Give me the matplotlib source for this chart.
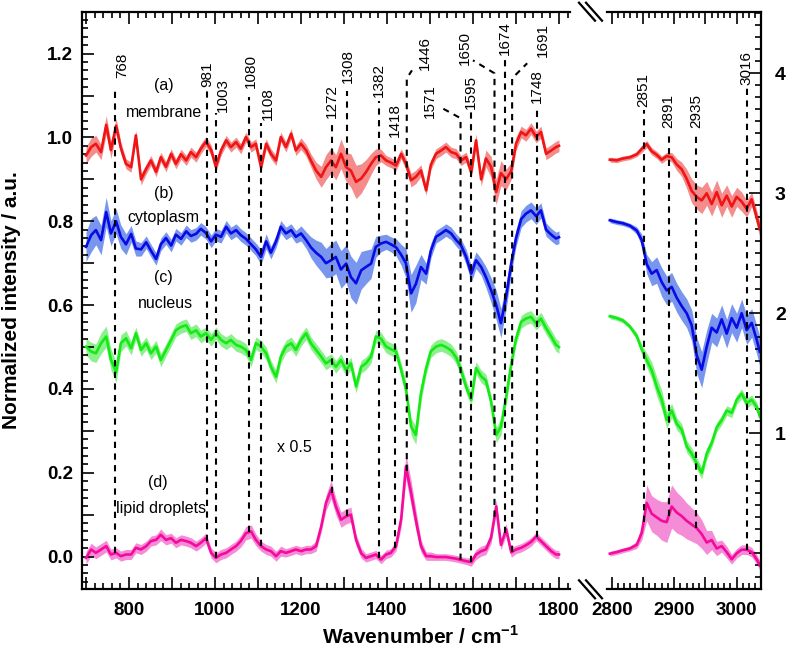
import numpy as np
import matplotlib
matplotlib.use('Agg')
import matplotlib.pyplot as plt
from matplotlib.ticker import MultipleLocator, FuncFormatter
from matplotlib.lines import Line2D

plt.rcParams['font.family'] = ['Liberation Sans', 'DejaVu Sans']
plt.rcParams['mathtext.fontset'] = 'custom'
plt.rcParams['mathtext.rm'] = 'Liberation Sans'
plt.rcParams['mathtext.bf'] = 'Liberation Sans:bold'

# ---- fingerprint region (left panel, left axis) ----
wn_low = [700, 712, 723, 735, 747, 758, 770, 781, 793, 805,
          816, 828, 840, 851, 863, 874, 886, 898, 909, 921,
          933, 944, 956, 967, 979, 991, 1002, 1014, 1026, 1037,
          1049, 1060, 1072, 1084, 1095, 1107, 1119, 1130, 1142, 1153,
          1165, 1177, 1188, 1200, 1212, 1223, 1235, 1247, 1258, 1270,
          1281, 1293, 1305, 1316, 1328, 1340, 1351, 1363, 1374, 1386,
          1398, 1409, 1421, 1433, 1444, 1456, 1467, 1479, 1491, 1502,
          1514, 1526, 1537, 1549, 1561, 1572, 1584, 1596, 1607, 1619,
          1630, 1642, 1654, 1665, 1677, 1689, 1700, 1712, 1723, 1735,
          1747, 1758, 1770, 1782, 1793, 1800]

membrane_low = [0.957, 0.977, 0.985, 0.965, 1.030, 0.970, 1.028, 0.975, 0.937, 0.929,
                1.005, 0.900, 0.925, 0.945, 0.918, 0.953, 0.930, 0.961, 0.937, 0.960,
                0.945, 0.965, 0.953, 0.973, 0.990, 0.970, 0.930, 0.969, 0.993, 0.977,
                0.989, 0.973, 1.001, 0.977, 0.985, 0.929, 0.985, 0.961, 0.945, 1.001,
                0.977, 1.009, 0.969, 0.985, 0.969, 0.945, 0.921, 0.906, 0.929, 0.945,
                0.929, 0.961, 0.929, 0.921, 0.894, 0.902, 0.917, 0.937, 0.953, 0.957,
                0.945, 0.940, 0.933, 0.961, 0.937, 0.898, 0.906, 0.921, 0.874, 0.935,
                0.961, 0.969, 0.977, 0.965, 0.961, 0.945, 0.953, 0.917, 0.993, 0.900,
                0.950, 0.930, 0.870, 0.915, 0.900, 0.920, 0.985, 1.013, 1.005, 1.021,
                1.001, 1.013, 0.961, 0.969, 0.977, 0.980]
membrane_low_sd = [0.020, 0.022, 0.020, 0.018, 0.022, 0.020, 0.018, 0.014, 0.012, 0.012,
                   0.012, 0.014, 0.012, 0.012, 0.012, 0.012, 0.012, 0.012, 0.012, 0.012,
                   0.012, 0.012, 0.012, 0.012, 0.012, 0.012, 0.012, 0.012, 0.012, 0.012,
                   0.012, 0.012, 0.012, 0.012, 0.012, 0.012, 0.012, 0.012, 0.012, 0.012,
                   0.012, 0.012, 0.012, 0.014, 0.014, 0.016, 0.020, 0.025, 0.030, 0.030,
                   0.030, 0.035, 0.035, 0.040, 0.040, 0.035, 0.030, 0.025, 0.020, 0.015,
                   0.012, 0.012, 0.012, 0.012, 0.014, 0.016, 0.016, 0.014, 0.012, 0.012,
                   0.012, 0.012, 0.012, 0.012, 0.012, 0.012, 0.012, 0.014, 0.016, 0.016,
                   0.020, 0.025, 0.030, 0.030, 0.025, 0.020, 0.016, 0.014, 0.014, 0.014,
                   0.014, 0.014, 0.014, 0.014, 0.014, 0.014]

cytoplasm_low = [0.739, 0.767, 0.779, 0.755, 0.822, 0.771, 0.800, 0.763, 0.745, 0.770,
                 0.735, 0.733, 0.750, 0.730, 0.710, 0.745, 0.760, 0.742, 0.768, 0.758,
                 0.776, 0.765, 0.770, 0.782, 0.772, 0.752, 0.768, 0.763, 0.787, 0.771,
                 0.779, 0.767, 0.758, 0.745, 0.733, 0.715, 0.752, 0.725, 0.752, 0.787,
                 0.771, 0.779, 0.763, 0.771, 0.755, 0.738, 0.725, 0.715, 0.700, 0.707,
                 0.715, 0.685, 0.699, 0.667, 0.652, 0.683, 0.691, 0.699, 0.739, 0.747,
                 0.751, 0.745, 0.738, 0.720, 0.700, 0.628, 0.650, 0.691, 0.675, 0.730,
                 0.763, 0.771, 0.779, 0.771, 0.755, 0.743, 0.715, 0.675, 0.707, 0.691,
                 0.667, 0.636, 0.600, 0.557, 0.620, 0.700, 0.760, 0.805, 0.818, 0.826,
                 0.812, 0.826, 0.780, 0.768, 0.759, 0.762]
cytoplasm_low_sd = [0.035, 0.040, 0.035, 0.035, 0.035, 0.030, 0.030, 0.028, 0.025, 0.020,
                    0.018, 0.016, 0.015, 0.015, 0.015, 0.015, 0.015, 0.015, 0.015, 0.015,
                    0.015, 0.015, 0.015, 0.015, 0.015, 0.015, 0.015, 0.015, 0.015, 0.015,
                    0.015, 0.015, 0.015, 0.015, 0.015, 0.018, 0.018, 0.015, 0.015, 0.015,
                    0.015, 0.015, 0.015, 0.018, 0.020, 0.025, 0.030, 0.035, 0.035, 0.040,
                    0.040, 0.045, 0.045, 0.050, 0.050, 0.045, 0.040, 0.035, 0.025, 0.020,
                    0.018, 0.018, 0.020, 0.025, 0.035, 0.045, 0.045, 0.030, 0.025, 0.018,
                    0.015, 0.015, 0.015, 0.015, 0.015, 0.015, 0.018, 0.020, 0.020, 0.020,
                    0.025, 0.030, 0.035, 0.035, 0.030, 0.025, 0.020, 0.020, 0.020, 0.020,
                    0.020, 0.018, 0.016, 0.015, 0.015, 0.015]

nucleus_low = [0.501, 0.489, 0.485, 0.509, 0.525, 0.470, 0.440, 0.509, 0.521, 0.497,
               0.533, 0.493, 0.509, 0.485, 0.501, 0.469, 0.493, 0.517, 0.540, 0.548,
               0.552, 0.533, 0.540, 0.525, 0.533, 0.517, 0.533, 0.517, 0.509, 0.517,
               0.505, 0.501, 0.493, 0.469, 0.509, 0.501, 0.485, 0.453, 0.429, 0.477,
               0.501, 0.509, 0.493, 0.517, 0.533, 0.509, 0.493, 0.477, 0.461, 0.469,
               0.453, 0.469, 0.445, 0.461, 0.406, 0.453, 0.461, 0.477, 0.525, 0.520,
               0.501, 0.495, 0.489, 0.445, 0.400, 0.310, 0.290, 0.390, 0.450, 0.490,
               0.501, 0.505, 0.500, 0.492, 0.475, 0.445, 0.405, 0.374, 0.450, 0.430,
               0.420, 0.370, 0.290, 0.310, 0.380, 0.460, 0.520, 0.560, 0.568, 0.572,
               0.556, 0.568, 0.545, 0.525, 0.505, 0.500]
nucleus_low_sd = [0.020, 0.022, 0.022, 0.025, 0.025, 0.025, 0.025, 0.020, 0.018, 0.016,
                  0.015, 0.015, 0.015, 0.015, 0.015, 0.016, 0.015, 0.015, 0.015, 0.015,
                  0.015, 0.015, 0.015, 0.015, 0.015, 0.015, 0.015, 0.015, 0.015, 0.015,
                  0.015, 0.015, 0.015, 0.016, 0.015, 0.015, 0.015, 0.015, 0.015, 0.015,
                  0.015, 0.015, 0.015, 0.015, 0.015, 0.015, 0.015, 0.015, 0.015, 0.015,
                  0.015, 0.015, 0.015, 0.015, 0.016, 0.015, 0.015, 0.015, 0.015, 0.015,
                  0.015, 0.015, 0.015, 0.016, 0.018, 0.020, 0.022, 0.020, 0.016, 0.015,
                  0.015, 0.015, 0.015, 0.015, 0.015, 0.015, 0.015, 0.015, 0.015, 0.015,
                  0.015, 0.016, 0.018, 0.020, 0.018, 0.016, 0.015, 0.015, 0.015, 0.015,
                  0.015, 0.015, 0.015, 0.015, 0.015, 0.015]

# lipid droplets, shown x 0.5
lipid_low = [-0.003, 0.017, 0.009, 0.017, 0.025, 0.005, 0.009, 0.001, 0.005, 0.005,
             0.021, 0.017, 0.025, 0.037, 0.040, 0.052, 0.040, 0.044, 0.033, 0.040,
             0.037, 0.033, 0.025, 0.033, 0.044, 0.009, -0.003, 0.005, 0.009, 0.017,
             0.025, 0.037, 0.056, 0.060, 0.040, 0.025, 0.017, 0.013, 0.001, 0.013,
             0.009, 0.013, 0.017, 0.013, 0.017, 0.017, 0.025, 0.072, 0.128, 0.160,
             0.120, 0.088, 0.096, 0.100, 0.040, 0.008, -0.003, 0.001, 0.005, -0.007,
             0.005, 0.009, 0.025, 0.090, 0.215, 0.152, 0.088, 0.025, 0.001, 0.001,
             -0.001, -0.001, -0.001, -0.003, -0.005, -0.008, -0.011, -0.013, 0.005, 0.013,
             0.017, 0.045, 0.120, 0.028, 0.065, 0.010, 0.017, 0.021, 0.027, 0.035,
             0.048, 0.037, 0.025, 0.013, 0.005, 0.005]
lipid_low_sd = [0.015, 0.015, 0.014, 0.014, 0.014, 0.013, 0.012, 0.012, 0.012, 0.012,
                0.012, 0.012, 0.012, 0.012, 0.012, 0.014, 0.012, 0.012, 0.012, 0.012,
                0.012, 0.012, 0.012, 0.012, 0.012, 0.012, 0.012, 0.012, 0.012, 0.012,
                0.012, 0.014, 0.016, 0.016, 0.014, 0.012, 0.012, 0.012, 0.012, 0.012,
                0.010, 0.010, 0.010, 0.010, 0.010, 0.010, 0.012, 0.014, 0.018, 0.022,
                0.020, 0.018, 0.018, 0.018, 0.014, 0.012, 0.010, 0.010, 0.010, 0.010,
                0.010, 0.010, 0.012, 0.020, 0.030, 0.030, 0.025, 0.015, 0.010, 0.010,
                0.008, 0.008, 0.008, 0.008, 0.008, 0.008, 0.008, 0.010, 0.012, 0.012,
                0.012, 0.014, 0.016, 0.012, 0.014, 0.012, 0.010, 0.010, 0.010, 0.010,
                0.010, 0.010, 0.010, 0.010, 0.010, 0.010]

# ---- CH stretching region (right panel, right axis) ----
wn_high = [2797, 2808, 2818, 2829, 2840, 2848, 2856, 2864, 2872, 2880,
           2888, 2896, 2904, 2912, 2920, 2928, 2936, 2944, 2952, 2960,
           2968, 2976, 2984, 2992, 3000, 3008, 3016, 3024, 3032, 3037]

membrane_high = [3.28, 3.275, 3.29, 3.30, 3.325, 3.37, 3.41, 3.35, 3.32, 3.28,
                 3.31, 3.30, 3.24, 3.20, 3.12, 3.02, 2.97, 2.94, 3.00, 2.91,
                 3.01, 2.90, 2.98, 2.89, 2.97, 2.93, 2.87, 2.95, 2.80, 2.70]
membrane_high_sd = [0.02, 0.02, 0.02, 0.02, 0.02, 0.03, 0.03, 0.03, 0.03, 0.03,
                    0.03, 0.04, 0.05, 0.06, 0.08, 0.10, 0.10, 0.11, 0.10, 0.10,
                    0.10, 0.10, 0.09, 0.09, 0.08, 0.08, 0.07, 0.06, 0.06, 0.06]

cytoplasm_high = [2.775, 2.76, 2.75, 2.73, 2.69, 2.61, 2.41, 2.33, 2.36, 2.26,
                  2.19, 2.22, 2.13, 2.06, 2.00, 1.90, 1.65, 1.53, 1.72, 1.88,
                  1.84, 1.95, 1.83, 1.96, 1.88, 2.00, 1.86, 1.92, 1.78, 1.68]
cytoplasm_high_sd = [0.02, 0.02, 0.02, 0.02, 0.03, 0.05, 0.08, 0.10, 0.11, 0.12,
                     0.12, 0.12, 0.12, 0.12, 0.12, 0.13, 0.15, 0.15, 0.14, 0.12,
                     0.12, 0.12, 0.12, 0.12, 0.12, 0.12, 0.12, 0.12, 0.12, 0.12]

nucleus_high = [1.975, 1.96, 1.94, 1.89, 1.81, 1.70, 1.61, 1.525, 1.39, 1.28,
                1.11, 1.19, 1.08, 1.03, 0.89, 0.83, 0.75, 0.67, 0.83, 0.92,
                1.05, 1.11, 1.19, 1.17, 1.28, 1.33, 1.25, 1.28, 1.22, 1.14]
nucleus_high_sd = [0.02, 0.02, 0.02, 0.02, 0.03, 0.04, 0.06, 0.07, 0.08, 0.08,
                   0.07, 0.06, 0.05, 0.05, 0.05, 0.05, 0.05, 0.05, 0.05, 0.04,
                   0.04, 0.04, 0.04, 0.04, 0.04, 0.04, 0.04, 0.04, 0.04, 0.04]

lipid_high = [-0.003, 0.01, 0.025, 0.04, 0.07, 0.17, 0.42, 0.33, 0.30, 0.27,
              0.26, 0.39, 0.34, 0.31, 0.27, 0.24, 0.21, 0.16, 0.09, 0.11,
              0.04, 0.06, 0.01, -0.05, 0.0, 0.03, 0.03, 0.01, -0.05, -0.10]
lipid_high_sd = [0.02, 0.02, 0.02, 0.02, 0.03, 0.06, 0.15, 0.15, 0.15, 0.16,
                 0.17, 0.18, 0.17, 0.16, 0.15, 0.14, 0.13, 0.12, 0.10, 0.08,
                 0.06, 0.05, 0.05, 0.04, 0.04, 0.04, 0.04, 0.04, 0.04, 0.04]

# band assignments (cm-1)
bands_low = [768, 981, 1003, 1080, 1108, 1272, 1308, 1382, 1418, 1446,
             1571, 1595, 1650, 1674, 1691, 1748]
bands_high = [2851, 2891, 2935, 3016]

# label layout: (line top, text x, text y, bent end or None)
layout_low = {
    768: (1.112, 784, 1.143, None),
    981: (1.117, 981, 1.121, None),
    1003: (1.058, 1019, 1.060, None),
    1080: (1.096, 1084, 1.117, None),
    1108: (1.034, 1124, 1.041, None),
    1272: (1.029, 1272, 1.046, None),
    1308: (1.112, 1308, 1.129, None),
    1382: (1.088, 1382, 1.096, None),
    1418: (0.993, 1418, 1.000, None),
    1446: (1.141, 1488, 1.160, (1458, 1.160)),
    1571: (1.046, 1500, 1.046, (1530, 1.069)),
    1595: (1.060, 1595, 1.069, None),
    1650: (1.153, 1581, 1.172, (1600, 1.184)),
    1674: (1.184, 1674, 1.196, None),
    1691: (1.141, 1763, 1.191, (1726, 1.177)),
    1748: (1.072, 1748, 1.081, None),
}
layout_high = {
    2851: (3.69, 3.72),
    2891: (3.51, 3.545),
    2935: (3.51, 3.545),
    3016: (3.88, 3.90),
}

series = [
    ('membrane', membrane_low, membrane_low_sd, membrane_high, membrane_high_sd, '#f01414', '#f58c8c'),
    ('cytoplasm', cytoplasm_low, cytoplasm_low_sd, cytoplasm_high, cytoplasm_high_sd, '#0a0ae6', '#7896ee'),
    ('nucleus', nucleus_low, nucleus_low_sd, nucleus_high, nucleus_high_sd, '#14eb14', '#8cf08c'),
    ('lipid', lipid_low, lipid_low_sd, lipid_high, lipid_high_sd, '#f50a9b', '#f58cd7'),
]

W, H = 788, 652
fig = plt.figure(figsize=(W / 100, H / 100), dpi=100)
ax = fig.add_axes([81.7 / W, 1 - 589.3 / H, (570 - 81.7) / W, (589.3 - 11.7) / H])
ax2 = fig.add_axes([606.7 / W, 1 - 589.3 / H, (761 - 606.7) / W, (589.3 - 11.7) / H])

for name, ylo, sdlo, yhi, sdhi, col, band in series:
    ylo, sdlo = np.array(ylo), np.array(sdlo)
    yhi, sdhi = np.array(yhi), np.array(sdhi)
    ax.fill_between(wn_low, ylo - sdlo, ylo + sdlo, color=band, lw=0, zorder=1)
    ax.plot(wn_low, ylo, color=col, lw=1.9, zorder=2)
    ax2.fill_between(wn_high, yhi - sdhi, yhi + sdhi, color=band, lw=0, zorder=1)
    ax2.plot(wn_high, yhi, color=col, lw=1.9, zorder=2)

dash = (0, (3.0, 2.6))
for b in bands_low:
    top, tx, ty, bend = layout_low[b]
    bottom = np.interp(b, wn_low, lipid_low)
    xs, ys = [b, b], [bottom, top]
    if bend is not None:
        xs.append(bend[0])
        ys.append(bend[1])
    ax.plot(xs, ys, color='k', lw=1.5, ls=dash, zorder=3)
    ax.text(tx, ty, str(b), rotation=90, ha='center', va='bottom', fontsize=11)

for b in bands_high:
    top, ty = layout_high[b]
    bottom = np.interp(b, wn_high, lipid_high)
    ax2.plot([b, b], [bottom, top], color='k', lw=1.5, ls=dash, zorder=3)
    ax2.text(b, ty, str(b), rotation=90, ha='center', va='bottom', fontsize=11)

# curve labels
ax.text(881, 1.124, '(a)', ha='center', va='center', fontsize=11.5)
ax.text(881, 1.060, 'membrane', ha='center', va='center', fontsize=11.5)
ax.text(881, 0.867, '(b)', ha='center', va='center', fontsize=11.5)
ax.text(881, 0.810, 'cytoplasm', ha='center', va='center', fontsize=11.5)
ax.text(881, 0.667, '(c)', ha='center', va='center', fontsize=11.5)
ax.text(886, 0.605, 'nucleus', ha='center', va='center', fontsize=11.5)
ax.text(867, 0.176, '(d)', ha='center', va='center', fontsize=11.5)
ax.text(874, 0.114, 'lipid droplets', ha='center', va='center', fontsize=11.5)
ax.text(1184, 0.260, 'x 0.5', ha='center', va='center', fontsize=11.5)

# axes styling
ax.set_xlim(690, 1825.6)
ax.set_ylim(-0.078, 1.30)
ax2.set_xlim(2792, 3038.9)
ax2.set_ylim(-0.30, 4.513)

for a in (ax, ax2):
    for s in a.spines.values():
        s.set_linewidth(1.6)
    a.tick_params(which='both', direction='in', width=1.2, top=True, labelsize=13.5)
    a.tick_params(which='major', length=8.5)
    a.tick_params(which='minor', length=4.3)
    a.tick_params(axis='x', pad=9)

ax.spines['right'].set_visible(False)
ax.tick_params(right=False)
ax.xaxis.set_major_locator(MultipleLocator(100))
ax.xaxis.set_minor_locator(MultipleLocator(20))
ax.xaxis.set_major_formatter(FuncFormatter(lambda v, p: f'{v:.0f}' if round(v) % 200 == 0 else ''))
ax.yaxis.set_major_locator(MultipleLocator(0.1))
ax.yaxis.set_minor_locator(MultipleLocator(0.02))
ax.yaxis.set_major_formatter(FuncFormatter(
    lambda v, p: f'{v:.1f}' if abs(v / 0.2 - round(v / 0.2)) < 1e-6 else ''))
ax.tick_params(axis='y', pad=6)

ax2.spines['left'].set_visible(False)
ax2.yaxis.tick_right()
ax2.tick_params(left=False, right=True, labelleft=False, labelright=True)
ax2.tick_params(axis='y', pad=10, labelsize=14)
ax2.xaxis.set_major_locator(MultipleLocator(50))
ax2.xaxis.set_minor_locator(MultipleLocator(10))
ax2.xaxis.set_major_formatter(FuncFormatter(lambda v, p: f'{v:.0f}' if round(v) % 100 == 0 else ''))
ax2.yaxis.set_major_locator(MultipleLocator(1))
ax2.yaxis.set_minor_locator(MultipleLocator(0.1))
ax2.yaxis.set_major_formatter(FuncFormatter(lambda v, p: f'{v:.0f}' if v > 0.5 else ''))

for a in (ax, ax2):
    for lab in a.get_xticklabels() + a.get_yticklabels():
        lab.set_fontweight('bold')

# axis break marks
for yc in (11.7, 589.3):
    for dx in (0, 7):
        x0, x1 = 579 + dx, 595 + dx
        fig.add_artist(Line2D([x0 / W, x1 / W], [1 - (yc - 9) / H, 1 - (yc + 9) / H],
                              color='k', lw=1.6))

fig.text(12 / W, 1 - 300 / H, 'Normalized intensity / a.u.', rotation=90,
         ha='center', va='center', fontsize=15, fontweight='bold')
fig.text(421 / W, 1 - 636 / H, r'Wavenumber / cm$^{\mathbf{-1}}$',
         ha='center', va='center', fontsize=15, fontweight='bold')

fig.savefig('out.png', dpi=100)
